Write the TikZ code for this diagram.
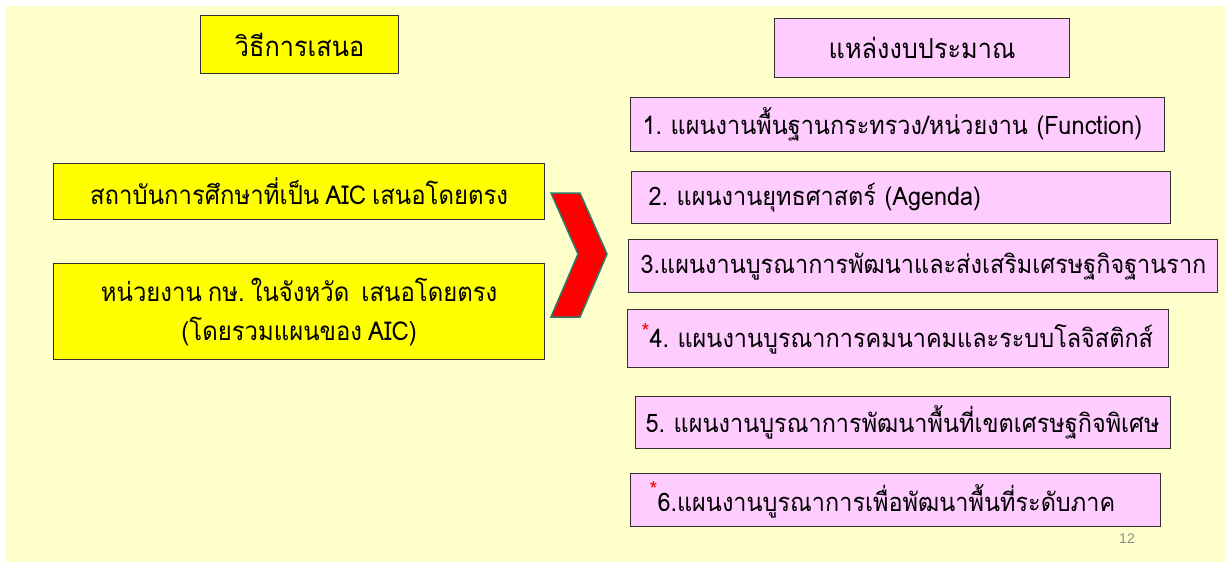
\documentclass[tikz,border=0pt]{standalone}
\usepackage{fontspec}
\setmainfont{Liberation Sans}
\newfontfamily\thai[Script=Thai, FakeStretch=0.92, WordSpace=0.75]{Loma}
\frenchspacing
\definecolor{bgyellow}{HTML}{FFFFCC}
\definecolor{boxyellow}{HTML}{FFFF00}
\definecolor{boxpink}{HTML}{FFCCFF}
\definecolor{boxline}{HTML}{303030}
\definecolor{chevline}{HTML}{2F7A66}
\definecolor{pagegrey}{HTML}{8C8C8C}
\tikzset{
  ybox/.style={draw=boxline, line width=1.3pt, fill=boxyellow, anchor=north west,
    inner sep=0pt, align=center, font=\thai\frenchspacing\fontsize{26}{39}\selectfont},
  pbox/.style={draw=boxline, line width=1.3pt, fill=boxpink, anchor=north west,
    inner ysep=0pt, align=left, font=\thai\frenchspacing\fontsize{25.5}{39}\selectfont}
}
\newcommand{\redstar}[1]{\raisebox{#1}{\textcolor{red}{\fontsize{22}{22}\selectfont *}}}
\begin{document}
\begin{tikzpicture}[x=1pt,y=-1pt]
\useasboundingbox (0,0) rectangle (1230,568);
\fill[white] (0,0) rectangle (1230,568);
\fill[bgyellow] (5,6) rectangle (1225,562);
% titles
\node[ybox, font=\thai\fontsize{27.5}{40}\selectfont, minimum width=198, minimum height=58] (lt) at (200,15) {วิธีการเสนอ};
\node[pbox, font=\thai\fontsize{27.5}{40}\selectfont, align=center, inner xsep=0pt, minimum width=295, minimum height=59] (rt) at (774,18) {แหล่งงบประมาณ};
% left boxes
\node[ybox, minimum width=491, minimum height=56] (l1) at (53,163) {\mbox{สถาบันการศึกษาที่เป็น AIC เสนอโดยตรง}};
\node[ybox, minimum width=491, minimum height=96] (l2) at (53,263) {\mbox{หน่วยงาน กษ. ในจังหวัด\ \ เสนอโดยตรง}\\\mbox{(โดยรวมแผนของ AIC)}};
% chevron
\draw[chevline, line width=1.5pt, fill=red, line join=miter]
  (551,193) -- (580,193) -- (607,254) -- (580,317) -- (551,317) -- (578,254) -- cycle;
% right boxes
\node[pbox, minimum width=534, minimum height=54, inner xsep=12pt, text width=510] (r1) at (630,97)
  {\mbox{1. แผนงานพื้นฐานกระทรวง/หน่วยงาน (Function)}};
\node[pbox, minimum width=539, minimum height=52, inner xsep=17pt, text width=505] (r2) at (631,171)
  {\mbox{2. แผนงานยุทธศาสตร์ (Agenda)}};
\node[pbox, minimum width=589, minimum height=53, inner xsep=12pt, text width=565] (r3) at (628,239)
  {\mbox{3.แผนงานบูรณาการพัฒนาและส่งเสริมเศรษฐกิจฐานราก}};
\node[pbox, minimum width=541, minimum height=58, inner xsep=14pt, text width=513] (r4) at (627,309)
  {\mbox{\redstar{0.3em}4. แผนงานบูรณาการคมนาคมและระบบโลจิสติกส์}};
\node[pbox, minimum width=535, minimum height=52, inner xsep=10pt, text width=515] (r5) at (635,396)
  {\mbox{5. แผนงานบูรณาการพัฒนาพื้นที่เขตเศรษฐกิจพิเศษ}};
\node[pbox, minimum width=530, minimum height=53, inner xsep=19pt, text width=492] (r6) at (630,473)
  {\mbox{\redstar{0.55em}6.แผนงานบูรณาการเพื่อพัฒนาพื้นที่ระดับภาค}};
% page number
\node[text=pagegrey, font=\fontsize{14}{14}\selectfont, anchor=center] (pg) at (1127,539) {12};
\end{tikzpicture}
\end{document}
